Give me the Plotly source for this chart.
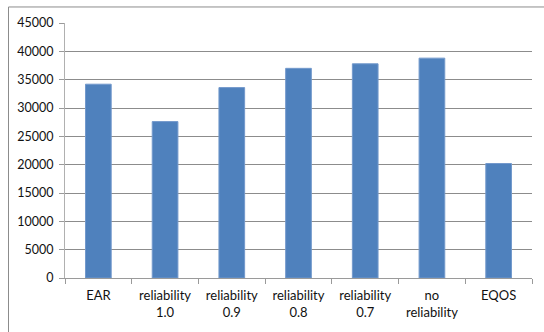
import plotly.graph_objects as go

# Categories and values
categories = ["EAR", "reliability<br>1.0", "reliability<br>0.9", "reliability<br>0.8",
              "reliability<br>0.7", "no<br>reliability", "EQOS"]
values = [34200, 27600, 33600, 37000, 37800, 38800, 20200]
y_ticks = [0, 5000, 10000, 15000, 20000, 25000, 30000, 35000, 40000, 45000]

fig = go.Figure(
    go.Bar(
        x=categories,
        y=values,
        width=0.385,
        marker=dict(color="#4F81BD", line=dict(color="#7399cc", width=1)),
    )
)

family = "Lato, 'Open Sans', sans-serif"
font = dict(family=family, size=12, color="#111111")

fig.update_layout(
    width=544,
    height=332,
    margin=dict(l=65, r=12, t=23, b=54),
    paper_bgcolor="white",
    plot_bgcolor="white",
    showlegend=False,
    font=font,
    bargap=0.615,
)

fig.update_xaxes(
    type="category",
    showline=True,
    linecolor="#9a9a9a",
    linewidth=1,
    ticks="outside",
    tickson="boundaries",
    ticklen=5,
    tickcolor="#9a9a9a",
    showgrid=False,
    tickfont=dict(family=family, size=13, color="#111111"),
    tickangle=0,
    ticklabelstandoff=5,
)

fig.update_yaxes(
    range=[0, 45000],
    tickvals=y_ticks,
    ticktext=[str(v) for v in y_ticks],
    showline=True,
    linecolor="#b0b0b0",
    linewidth=1,
    ticks="outside",
    ticklen=5,
    tickcolor="#9a9a9a",
    showgrid=True,
    gridcolor="#8c8c8c",
    gridwidth=1,
    zeroline=False,
    tickfont=dict(family=family, size=12.5, color="#111111"),
    ticklabelstandoff=3,
)

# Chart-area frame (left and top edges)
fx = (8.5 - 65) / 467
fy = (277.7 - 7) / 254.7
fig.add_shape(type="line", xref="paper", yref="paper", x0=fx, x1=fx, y0=-0.4, y1=fy,
              line=dict(color="#8c8c8c", width=1))
fig.add_shape(type="line", xref="paper", yref="paper", x0=fx, x1=1.2, y0=fy, y1=fy,
              line=dict(color="#8c8c8c", width=1))

fig.write_html("out.html")
